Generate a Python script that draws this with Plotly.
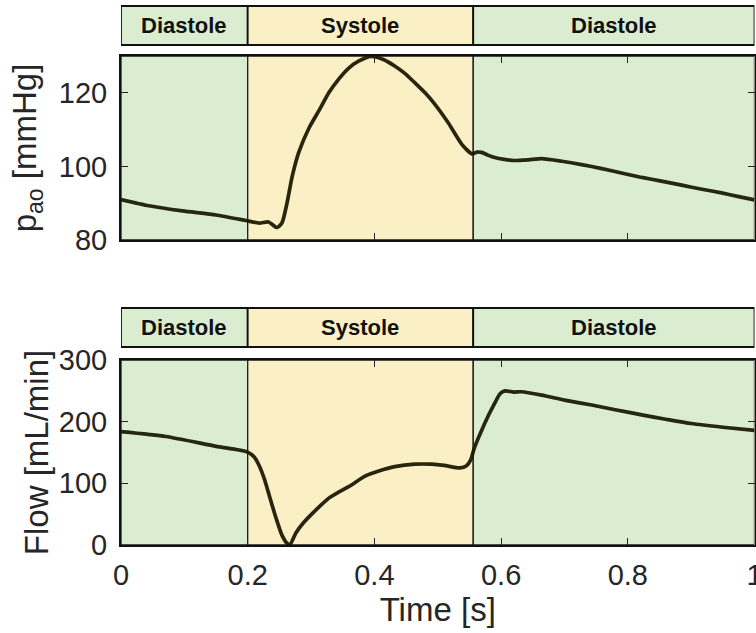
import plotly.graph_objects as go

# ---- data ----
phase_edges = [0.0, 0.2, 0.556, 1.0]
phase_labels = ["Diastole", "Systole", "Diastole"]
phase_kind = ["dia", "sys", "dia"]

t_p = [0.000, 0.044, 0.097, 0.150, 0.197, 0.218, 0.233, 0.246, 0.254, 0.262,
       0.270, 0.281, 0.297, 0.312, 0.328, 0.344, 0.360, 0.375, 0.395, 0.415,
       0.432, 0.448, 0.464, 0.480, 0.495, 0.516, 0.538, 0.554, 0.562, 0.569,
       0.580, 0.590, 0.605, 0.621, 0.643, 0.664, 0.696, 0.727, 0.759, 0.790,
       0.822, 0.853, 0.885, 0.917, 0.948, 0.975, 1.000]
p_ao = [91.0, 89.3, 87.9, 86.8, 85.3, 84.6, 84.9, 83.4, 84.6, 90.0,
        97.1, 104.0, 110.5, 115.0, 120.0, 123.8, 126.8, 128.6, 129.9, 129.0,
        127.3, 125.3, 122.7, 120.0, 117.0, 112.0, 106.0, 103.4, 103.9, 103.8,
        103.0, 102.4, 101.9, 101.6, 101.8, 102.1, 101.4, 100.5, 99.4, 98.2,
        97.0, 96.0, 94.9, 93.8, 92.8, 91.8, 90.9]

t_q = [0.000, 0.071, 0.150, 0.199, 0.210, 0.218, 0.226, 0.233, 0.244, 0.254,
       0.262, 0.267, 0.276, 0.288, 0.301, 0.314, 0.328, 0.344, 0.360, 0.386,
       0.407, 0.432, 0.464, 0.490, 0.510, 0.535, 0.545, 0.552, 0.558, 0.568,
       0.579, 0.590, 0.598, 0.606, 0.620, 0.632, 0.664, 0.700, 0.743, 0.782,
       0.822, 0.860, 0.900, 0.950, 1.000]
flow = [184, 176, 160, 151, 143, 129, 108, 84, 46, 16,
        3, 1, 19.5, 36, 50, 63, 76, 86, 95, 112,
        120, 127, 131, 131, 129, 125, 128, 138, 158, 183,
        208, 230, 245, 250, 248, 248.5, 243, 235, 227, 219,
        211, 204, 197, 191, 186]

x_ticks = [0, 0.2, 0.4, 0.6, 0.8, 1.0]
x_ticklabels = ["0", "0.2", "0.4", "0.6", "0.8", "1"]
p_ticks = [80, 100, 120]
q_ticks = [0, 100, 200, 300]

# ---- styling ----
W, H = 756, 633
GREEN = "rgb(218,237,208)"
YELLOW = "rgb(251,240,197)"
fills = {"dia": GREEN, "sys": YELLOW}
LINE = "rgba(24,24,0,0.93)"
TXT = "#262626"
FONT = "Liberation Sans, Arial, Helvetica, sans-serif"

def py(px):
    return 1 - px / H

xdom = [121 / W, 754.5 / W]
band1 = [py(45), py(6)]
plot1 = [py(240), py(56)]
band2 = [py(347), py(308)]
plot2 = [py(545), py(360)]

fig = go.Figure()
fig.add_trace(go.Scatter(x=t_p, y=p_ao, mode="lines", xaxis="x", yaxis="y",
                         line=dict(color=LINE, width=3.7, shape="spline", smoothing=0.6),
                         showlegend=False, hoverinfo="skip"))
fig.add_trace(go.Scatter(x=t_q, y=flow, mode="lines", xaxis="x2", yaxis="y2",
                         line=dict(color=LINE, width=3.7, shape="spline", smoothing=0.6),
                         showlegend=False, hoverinfo="skip"))

shapes = []
annotations = []
for xr, yr, band in [("x", "y", band1), ("x2", "y2", band2)]:
    for i, lab in enumerate(phase_labels):
        x0, x1 = phase_edges[i], phase_edges[i + 1]
        col = fills[phase_kind[i]]
        shapes.append(dict(type="rect", xref=xr, yref=yr + " domain", x0=x0, x1=x1,
                           y0=0, y1=1, fillcolor=col, layer="below",
                           line=dict(color="#1a1a1a", width=1.3)))
        shapes.append(dict(type="rect", xref=xr, yref="paper", x0=x0, x1=x1,
                           y0=band[0], y1=band[1], fillcolor=col, layer="above",
                           line=dict(color="#111111", width=1.8)))
        annotations.append(dict(x=(x0 + x1) / 2, y=(band[0] + band[1]) / 2,
                                xref=xr, yref="paper", text="<b>" + lab + "</b>",
                                showarrow=False, xanchor="center", yanchor="middle",
                                font=dict(family=FONT, size=22, color="#111111")))

axis_common = dict(showline=True, linecolor="#111111", linewidth=2, mirror="ticks",
                   ticks="inside", ticklen=7, tickwidth=1, tickcolor="#262626",
                   showgrid=False, zeroline=False, automargin=False,
                   ticklabeloverflow="allow",
                   tickfont=dict(family=FONT, size=29, color=TXT))

fig.update_layout(
    template="none",
    font=dict(family=FONT, color=TXT),
    width=W, height=H, margin=dict(l=0, r=0, t=0, b=0, autoexpand=False),
    paper_bgcolor="white", plot_bgcolor="white",
    shapes=shapes, annotations=annotations,
    xaxis=dict(domain=xdom, range=[0, 1], anchor="y", tickvals=x_ticks,
               ticktext=x_ticklabels, showticklabels=False, **axis_common),
    yaxis=dict(domain=plot1, range=[80, 130], anchor="x", tickvals=p_ticks,
               ticklabelstandoff=6,
               title=dict(text="p<sub>ao</sub> [mmHg]", standoff=12,
                          font=dict(family=FONT, size=33, color=TXT)),
               **axis_common),
    xaxis2=dict(domain=xdom, range=[0, 1], anchor="y2", tickvals=x_ticks,
                ticktext=x_ticklabels, ticklabelstandoff=3,
                title=dict(text="Time [s]", standoff=8,
                           font=dict(family=FONT, size=33, color=TXT)),
                **axis_common),
    yaxis2=dict(domain=plot2, range=[0, 300], anchor="x2", tickvals=q_ticks,
                ticklabelstandoff=6,
                title=dict(text="Flow [mL/min]", standoff=0,
                           font=dict(family=FONT, size=33, color=TXT)),
                **axis_common),
)

fig.write_html("out.html")
